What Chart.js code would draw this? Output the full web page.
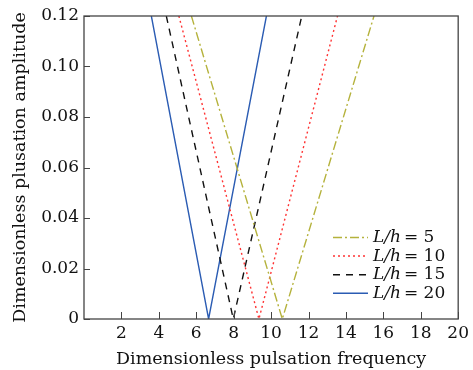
<!DOCTYPE html>
<html>
<head>
<meta charset="utf-8">
<script src="https://cdn.jsdelivr.net/npm/chart.js@4/dist/chart.umd.min.js"></script>
<style>
  html, body { margin: 0; padding: 0; background: #fff; }
  #wrap { width: 473px; height: 370px; }
</style>
</head>
<body>
<div id="wrap"><canvas id="c" width="473" height="370"></canvas></div>
<script>
// данные
const ratios = ['5', '10', '15', '20'];
const ampPoints = [0.12, 0, 0.12];
const freqLh5 = [5.74, 10.6, 15.5];
const freqLh10 = [5.07, 9.35, 13.55];
const freqLh15 = [4.40, 7.98, 11.64];
const freqLh20 = [3.60, 6.66, 9.75];

const xTicks = [2, 4, 6, 8, 10, 12, 14, 16, 18, 20];
const yTicks = [0, 0.02, 0.04, 0.06, 0.08, 0.10, 0.12];

const FONT = 'DejaVu Serif';

function toXY(xs) {
  return xs.map((x, i) => ({ x: x, y: ampPoints[i] }));
}

const styles = [
  { color: '#b5b23c', dash: [9, 3, 2, 3] },
  { color: '#ff3333', dash: [2, 3] },
  { color: '#111111', dash: [7, 6] },
  { color: '#2b5cb3', dash: [] }
];
const series = [freqLh5, freqLh10, freqLh15, freqLh20];

const datasets = series.map((s, i) => ({
  label: 'L/h = ' + ratios[i],
  data: toXY(s),
  borderColor: styles[i].color,
  borderDash: styles[i].dash,
  borderWidth: 1.4,
  pointRadius: 0,
  tension: 0,
  fill: false
}));

// рамка, внутренние засечки и легенда
const framePlugin = {
  id: 'frame',
  afterDraw(chart) {
    const ctx = chart.ctx;
    const a = chart.chartArea;
    const xs = chart.scales.x;
    const ys = chart.scales.y;
    ctx.save();
    ctx.strokeStyle = '#444';
    ctx.lineWidth = 1.3;
    ctx.setLineDash([]);
    ctx.strokeRect(a.left, a.top, a.right - a.left, a.bottom - a.top);

    ctx.lineWidth = 1;
    xTicks.forEach(v => {
      const px = Math.round(xs.getPixelForValue(v)) + 0.5;
      ctx.beginPath();
      ctx.moveTo(px, a.bottom);
      ctx.lineTo(px, a.bottom - 7);
      ctx.stroke();
    });
    yTicks.forEach(v => {
      const py = Math.round(ys.getPixelForValue(v)) + 0.5;
      ctx.beginPath();
      ctx.moveTo(a.left, py);
      ctx.lineTo(a.left + 6, py);
      ctx.stroke();
    });

    // легенда
    const lx = 333, lw = 35, ty = 237.5, step = 18.6;
    chart.data.datasets.forEach((ds, i) => {
      const y = ty + i * step;
      ctx.strokeStyle = ds.borderColor;
      ctx.lineWidth = 1.5;
      ctx.setLineDash(ds.borderDash);
      ctx.beginPath();
      ctx.moveTo(lx, y);
      ctx.lineTo(lx + lw, y);
      ctx.stroke();
      ctx.setLineDash([]);

      ctx.fillStyle = '#111';
      ctx.textBaseline = 'middle';
      ctx.textAlign = 'left';
      let tx = lx + lw + 5;
      ctx.font = 'italic 17px "' + FONT + '"';
      ctx.fillText('L/h', tx, y);
      tx += ctx.measureText('L/h').width + 3;
      ctx.font = '17px "' + FONT + '"';
      ctx.fillText('= ' + ratios[i], tx, y);
    });
    ctx.restore();
  }
};

new Chart(document.getElementById('c'), {
  type: 'line',
  data: { datasets: datasets },
  plugins: [framePlugin],
  options: {
    responsive: false,
    animation: false,
    layout: { padding: { top: 16, right: 11, left: 0, bottom: 0 } },
    plugins: { legend: { display: false }, tooltip: { enabled: false } },
    scales: {
      x: {
        type: 'linear',
        min: 0,
        max: 20,
        grid: { display: false, drawTicks: false },
        border: { display: false },
        afterFit: s => { s.height = 51; },
        ticks: {
          stepSize: 2,
          padding: 4,
          color: '#111',
          font: { family: FONT, size: 17 },
          callback: v => (v === 0 ? '' : v)
        },
        title: {
          display: true,
          text: 'Dimensionless pulsation frequency',
          color: '#111',
          font: { family: FONT, size: 17.5 },
          padding: { top: 0, bottom: 0 }
        }
      },
      y: {
        min: 0,
        max: 0.12,
        grid: { display: false, drawTicks: false },
        border: { display: false },
        afterFit: s => { s.width = 84; },
        ticks: {
          stepSize: 0.02,
          padding: 5,
          color: '#111',
          font: { family: FONT, size: 17 },
          callback: v => (v === 0 ? '0' : v.toFixed(2))
        },
        title: {
          display: true,
          text: 'Dimensionless plusation amplitude',
          color: '#111',
          font: { family: FONT, size: 17.5 },
          padding: { top: 10, bottom: 0 }
        }
      }
    }
  }
});
</script>
</body>
</html>
